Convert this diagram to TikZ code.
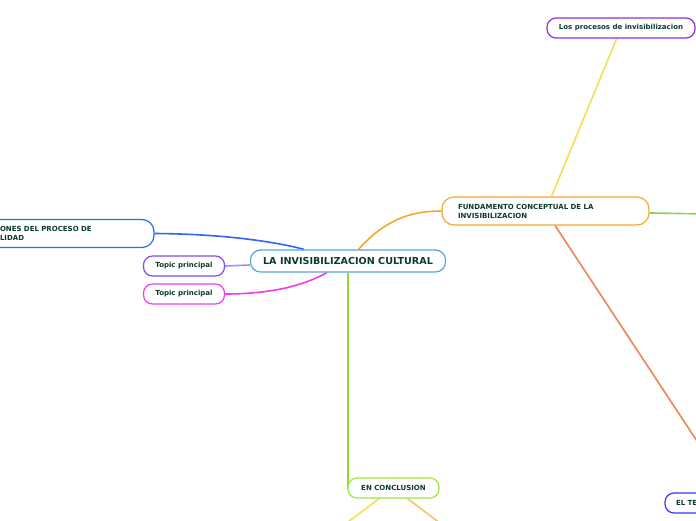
\documentclass[tikz,border=0pt]{standalone}
\usepackage{fontspec}
\setmainfont{DejaVu Sans}
\usepackage{tikz}
\usetikzlibrary{backgrounds}

\definecolor{txtgreen}{HTML}{0D3B2E}
\definecolor{skyblue}{HTML}{5BA3DC}
\definecolor{deepblue}{HTML}{2F66F5}
\definecolor{violet}{HTML}{7A4DF5}
\definecolor{lilac}{HTML}{A58BFA}
\definecolor{pinkish}{HTML}{F03CEB}
\definecolor{amber}{HTML}{F6A632}
\definecolor{purple}{HTML}{8E2CF0}
\definecolor{lemon}{HTML}{F8DC55}
\definecolor{grass}{HTML}{92CC64}
\definecolor{coral}{HTML}{EE8455}
\definecolor{lime}{HTML}{9AE83A}
\definecolor{limeline}{HTML}{8EDD2C}
\definecolor{peach}{HTML}{F9C168}
\definecolor{royal}{HTML}{3A35F5}

\begin{document}
\begin{tikzpicture}[
    x=1pt, y=-1pt,
    every node/.style={font=\bfseries\fontsize{7}{9}\selectfont, text=txtgreen},
    topicbox/.style={draw, fill=white, rounded corners=9pt, line width=1.2pt,
        inner sep=0pt, minimum height=20pt},
    link/.style={line width=1.6pt}
]
    \useasboundingbox (0,0) rectangle (696,520);
    \clip (0,0) rectangle (696,520);

    \node (central) [topicbox, draw=skyblue, minimum width=195pt, minimum height=22pt,
        rounded corners=10pt, font=\bfseries\fontsize{9.6}{11}\selectfont] at (348,261)
        {LA INVISIBILIZACION CULTURAL};
    \node (topicA) [topicbox, draw=violet, minimum width=81pt] at (184,266) {Topic principal};
    \node (topicB) [topicbox, draw=pinkish, minimum width=81pt] at (184,294) {Topic principal};
    \node (dims) [topicbox, draw=deepblue, rounded corners=12pt, minimum height=28pt,
        inner xsep=40pt, text width=114pt, align=left] at (57,233.5)
        {ONES DEL PROCESO DE\\LIDAD};
    \node (fund) [topicbox, draw=amber, rounded corners=12pt, minimum height=28pt,
        inner xsep=16pt, text width=175pt, align=left] at (545.5,211)
        {FUNDAMENTO CONCEPTUAL DE LA\\INVISIBILIZACION};
    \node (procesos) [topicbox, draw=purple, minimum width=148pt] at (621,28)
        {Los procesos de invisibilizacion};
    \node (concl) [topicbox, draw=lime, minimum width=91pt] at (393.5,488) {EN CONCLUSION};
    \node (tema) [topicbox, draw=royal, inner xsep=11pt, text width=73pt, align=left]
        at (712.5,503) {EL TE};

    \coordinate (outR) at (760,215);
    \coordinate (outTema) at (720,476);
    \coordinate (outCY) at (317,545);
    \coordinate (outCO) at (469,545);

    \begin{scope}[on background layer]
        \draw[link, deepblue] (dims.east) .. controls (230,234) and (280,243) .. (central);
        \draw[link, lilac] (topicA.east) -- (central);
        \draw[link, pinkish] (topicB.east) .. controls (280,294) and (310,282) .. (central);
        \draw[link, amber] (central) .. controls (385,220) and (410,211) .. (fund.west);
        \draw[link, limeline] (central) |- (concl.west);
        \draw[link, lemon] (fund) -- (procesos);
        \draw[link, grass] (fund) -- (outR);
        \draw[link, coral] (fund) -- (outTema);
        \draw[link, lemon] (concl) -- (outCY);
        \draw[link, peach] (concl) -- (outCO);
    \end{scope}
\end{tikzpicture}
\end{document}
